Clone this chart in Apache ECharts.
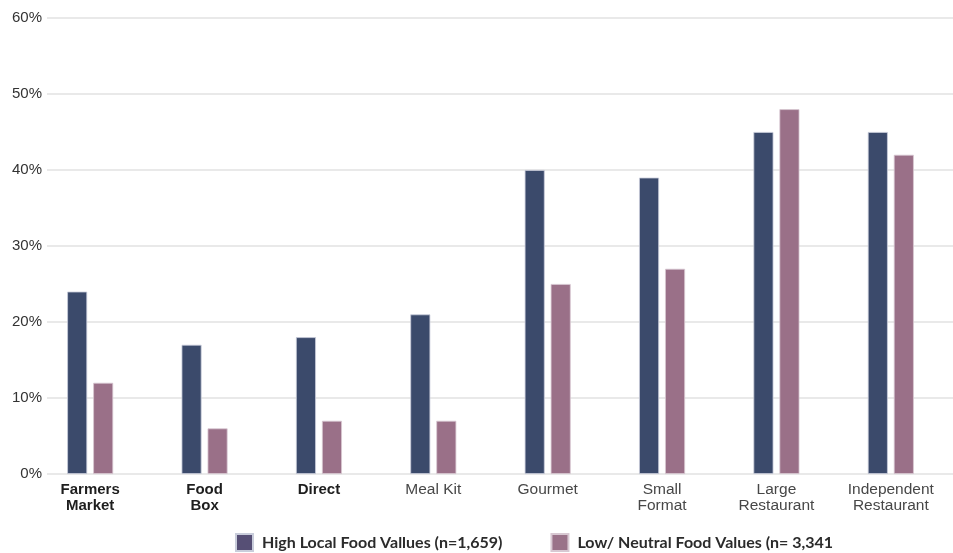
<!DOCTYPE html>
<html>
<head>
<meta charset="utf-8">
<script src="https://cdn.jsdelivr.net/npm/echarts@6/dist/echarts.min.js"></script>
<style>
html,body{margin:0;padding:0;background:#fff;}
#chart{width:953px;height:553px;}
</style>
</head>
<body>
<div id="chart"></div>
<script>
// Shopping channels surveyed
const categories = ['Farmers\nMarket', 'Food\nBox', 'Direct', 'Meal Kit', 'Gourmet', 'Small\nFormat', 'Large\nRestaurant', 'Independent\nRestaurant'];
// Channels whose labels are set in bold
const boldCategories = ['Farmers\nMarket', 'Food\nBox', 'Direct'];
// Share of respondents using each channel (%)
const highLocalValues = [24, 17, 18, 21, 40, 39, 45, 45];
const lowNeutralValues = [12, 6, 7, 7, 25, 27, 48, 42];
const seriesNames = ['High Local Food Vallues (n=1,659)', 'Low/ Neutral Food Values (n= 3,341'];
const yTicks = { min: 0, max: 60, interval: 10 };

const chart = echarts.init(document.getElementById('chart'));

chart.setOption({
  animation: false,
  backgroundColor: '#ffffff',
  legend: {
    bottom: 1,
    left: 235,
    padding: 0,
    itemWidth: 17,
    itemHeight: 17,
    itemGap: 48,
    icon: 'rect',
    textStyle: { fontFamily: 'Lato', fontWeight: 'bold', fontSize: 16, color: '#2b2b2b', padding: [0, 0, 0, 4] },
    data: [
      { name: seriesNames[0], itemStyle: { color: '#564f75' } },
      { name: seriesNames[1], itemStyle: { color: '#9a7289' } }
    ]
  },
  grid: [
    // gridlines and value labels
    { left: 47, right: 0, top: 18, bottom: 79, containLabel: false },
    // bars and category labels
    { left: 33, right: 5, top: 18, bottom: 79, containLabel: false }
  ],
  xAxis: [
    { type: 'category', gridIndex: 0, data: categories, show: false },
    {
      type: 'category',
      gridIndex: 1,
      data: categories,
      axisLine: { show: false },
      axisTick: { show: false },
      axisLabel: {
        interval: 0,
        margin: 8,
        formatter: v => boldCategories.includes(v) ? '{b|' + v + '}' : '{n|' + v + '}',
        rich: {
          b: { fontFamily: 'Liberation Sans', fontWeight: 'bold', fontSize: 15, lineHeight: 16, color: '#1e1e1e', align: 'center' },
          n: { fontFamily: 'Liberation Sans', fontSize: 15.5, lineHeight: 16, color: '#474747', align: 'center' }
        }
      }
    }
  ],
  yAxis: [
    {
      type: 'value',
      gridIndex: 0,
      min: yTicks.min,
      max: yTicks.max,
      interval: yTicks.interval,
      axisLine: { show: false },
      axisTick: { show: false },
      axisLabel: {
        formatter: '{value}%',
        margin: 5,
        fontFamily: 'Liberation Sans',
        fontSize: 15,
        color: '#333333'
      },
      splitLine: { lineStyle: { color: '#e2e2e2', width: 1.5 } }
    },
    {
      type: 'value',
      gridIndex: 1,
      min: yTicks.min,
      max: yTicks.max,
      interval: yTicks.interval,
      show: false,
      splitLine: { show: false }
    }
  ],
  series: [
    {
      name: seriesNames[0],
      type: 'bar',
      xAxisIndex: 1,
      yAxisIndex: 1,
      data: highLocalValues,
      barWidth: 20,
      barGap: '30%',
      itemStyle: { color: '#3b4a6b', borderColor: '#c9cddb', borderWidth: 0.8 }
    },
    {
      name: seriesNames[1],
      type: 'bar',
      xAxisIndex: 1,
      yAxisIndex: 1,
      data: lowNeutralValues,
      barWidth: 20,
      barGap: '30%',
      itemStyle: { color: '#9a7088', borderColor: '#d8c8d2', borderWidth: 0.8 }
    }
  ]
});
</script>
</body>
</html>
